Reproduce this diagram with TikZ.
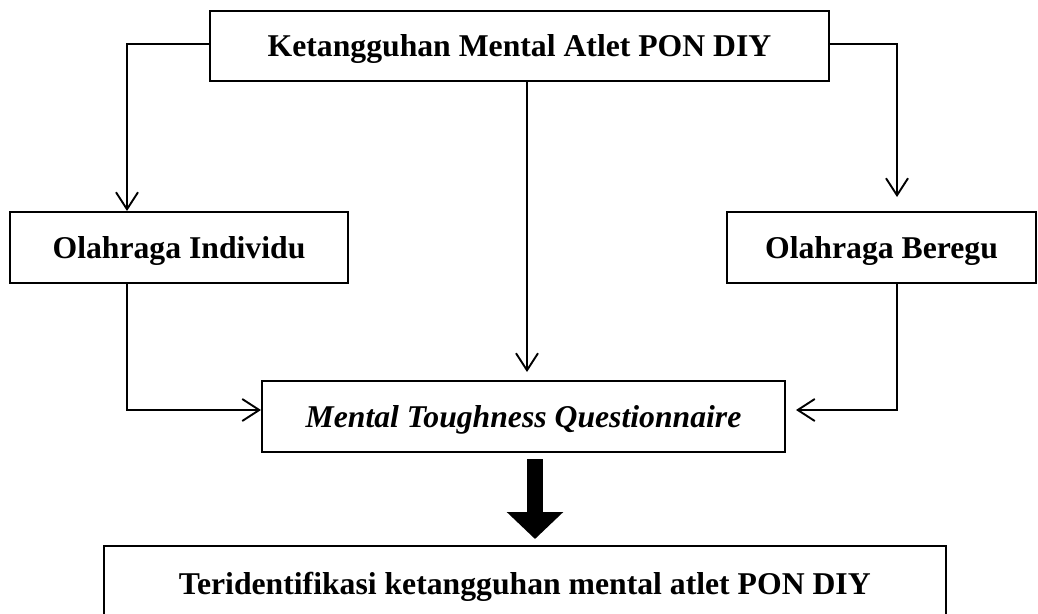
\documentclass[tikz,border=0pt]{standalone}
\usepackage{fontspec}
\setmainfont{Liberation Serif}
\usetikzlibrary{arrows.meta,calc}
\begin{document}
\begin{tikzpicture}[x=1pt,y=-1pt,
  box/.style={draw=black,line width=2pt,inner sep=0pt,align=center,text depth=0pt,
    font=\fontsize{31.7}{38}\selectfont\bfseries},
  conn/.style={draw=black,line width=1.9pt,
    -{Straight Barb[length=17pt,width=22pt,line width=1.9pt]}},
  bigarrow/.style={draw=black,line width=16pt,
    -{Triangle[length=27pt,width=55pt]}}]
\useasboundingbox (0,0) rectangle (1038,613);
\node[box,minimum width=619pt,minimum height=70pt] (top) at (519.5,46) {Ketangguhan Mental Atlet PON DIY};
\node[box,minimum width=338pt,minimum height=71pt] (ind) at (179,247.5) {Olahraga Individu};
\node[box,minimum width=309pt,minimum height=71pt] (ber) at (881.5,247.5) {Olahraga Beregu};
\node[box,minimum width=523pt,minimum height=71pt] (mtq) at (523.5,416.5) {\itshape Mental Toughness Questionnaire};
\node[box,minimum width=842.5pt,minimum height=74pt] (res) at (524.75,583) {Teridentifikasi ketangguhan mental atlet PON DIY};
\coordinate (lc) at (127,44);
\coordinate (rc) at (897,44);
\coordinate (lb) at (127,410);
\coordinate (rb) at (897,410);
% top to side boxes
\draw[conn] (top.west |- lc) -- (lc) -- (lc |- ind.north);
\draw[conn,shorten >=14pt] (top.east |- rc) -- (rc) -- (rc |- ber.north);
% top to middle
\draw[conn,shorten >=8pt] (top.south -| 527,0) -- (mtq.north -| 527,0);
% side boxes to middle
\draw[conn] (ind.south -| lb) -- (lb) -- (mtq.west |- lb);
\draw[conn,shorten >=10pt] (ber.south -| rb) -- (rb) -- (mtq.east |- rb);
% big arrow
\draw[bigarrow] ($(mtq.south -| 535,0)+(0,6)$) -- ($(res.north -| 535,0)+(0,-6)$);
\end{tikzpicture}
\end{document}
